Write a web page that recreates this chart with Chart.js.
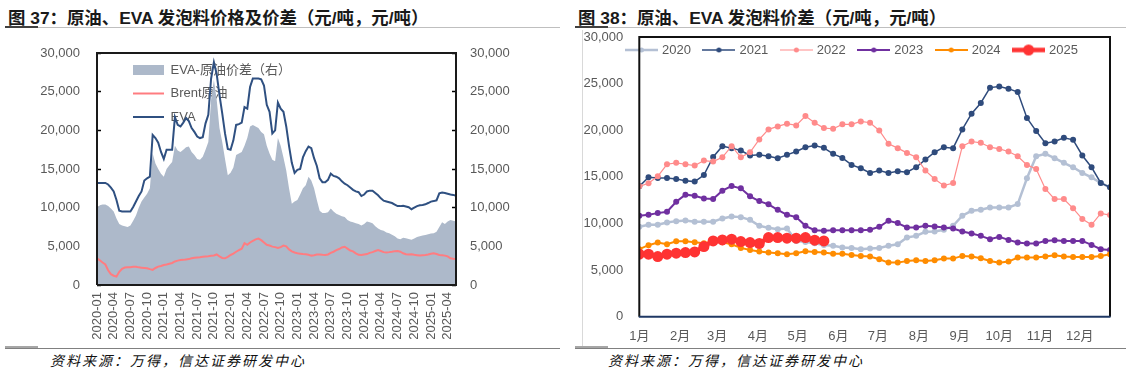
<!DOCTYPE html>
<html><head><meta charset="utf-8">
<script src="https://cdn.jsdelivr.net/npm/chart.js@4.4.1/dist/chart.umd.min.js"></script>
<style>
html,body{margin:0;padding:0;background:#fff;}
body{width:1131px;height:373px;position:relative;overflow:hidden;font-family:"Liberation Sans","Noto Sans CJK SC",sans-serif;}
.title{position:absolute;top:4px;font-size:17.4px;font-weight:bold;color:#1a1a1a;white-space:nowrap;}
.ln{position:absolute;}
.foot{position:absolute;top:350px;font-size:14px;font-style:italic;color:#111;letter-spacing:2px;white-space:nowrap;font-family:"Noto Sans CJK SC",sans-serif;}
canvas{position:absolute;}
</style></head>
<body>
<div class="title" style="left:8px;">图 37：原油、EVA 发泡料价格及价差（元/吨，元/吨）</div>
<div class="title" style="left:578px;">图 38：原油、EVA 发泡料价差（元/吨，元/吨）</div>
<div class="ln" style="left:5px;top:27px;width:555px;height:1px;background:#BFBFBF;"></div>
<div class="ln" style="left:5px;top:26px;width:33px;height:2px;background:#404040;"></div>
<div class="ln" style="left:575px;top:27px;width:551px;height:1px;background:#BFBFBF;"></div>
<div class="ln" style="left:575px;top:26px;width:33px;height:2px;background:#404040;"></div>
<div class="ln" style="left:582px;top:30px;width:1px;height:318px;background:#D9D9D9;"></div>
<div class="ln" style="left:5px;top:348px;width:555px;height:1px;background:#808080;"></div>
<div class="ln" style="left:5px;top:346px;width:33px;height:2px;background:#A6A6A6;"></div>
<div class="ln" style="left:575px;top:348px;width:551px;height:1px;background:#808080;"></div>
<div class="ln" style="left:575px;top:346px;width:33px;height:2px;background:#A6A6A6;"></div>
<div class="foot" style="left:50px;">资料来源：万得，信达证券研发中心</div>
<div class="foot" style="left:608px;">资料来源：万得，信达证券研发中心</div>
<canvas id="c1" width="565" height="318" style="left:0;top:30px;"></canvas>
<canvas id="c2" width="556" height="318" style="left:575px;top:30px;"></canvas>
<script>
// ---------- Chart 37 data (half-monthly, 2020-01 .. 2025-05) ----------
const halfMonthDates = [];
for (let y = 2020; y <= 2025; y++) {
  for (let m = 1; m <= 12; m++) {
    if (y === 2025 && m > 5) break;
    const mm = String(m).padStart(2, '0');
    halfMonthDates.push(y + '-' + mm + '-01', y + '-' + mm + '-16');
  }
}
const evaPrice = [
13200,13200,13200,13200,13000,12600,12100,11000,9600,9500,
9500,9500,9500,10100,10800,11500,12100,13500,13800,14000,
19400,19000,18400,17200,16300,17500,17500,17500,21700,20700,
20500,21000,21600,21200,20300,19800,19200,19000,19100,20900,
22000,26700,28800,27300,24600,22200,19600,17600,17500,18700,
20700,20800,21000,23000,22800,25600,26700,26700,26700,26600,
25800,23300,22400,19600,20000,23600,22800,22400,20500,18000,
15800,14500,14900,15000,16500,17300,17900,17700,16400,15400,
13800,13300,13300,13600,14400,14100,14000,13800,13400,13100,
12900,12600,12300,12100,12000,11500,11700,12100,12200,12200,
11900,11600,11200,10900,10800,10700,10600,10400,10200,10200,
10250,10150,10050,9800,10000,10200,10300,10350,10430,10600,
10780,10850,10950,11850,11950,11900,11800,11700,11650,11550];
const brentPrice = [
3450,3200,2900,2650,1900,1400,1200,1100,1700,2100,
2250,2280,2300,2350,2350,2280,2240,2200,2160,2050,
1950,2200,2380,2450,2580,2650,2750,2850,3050,3150,
3220,3250,3300,3350,3450,3530,3560,3580,3650,3700,
3720,3780,3820,3950,3700,3500,3450,3650,3880,4050,
4300,4500,4700,5400,5200,5500,5700,5900,6000,5800,
5500,5200,5100,4960,4900,4800,4900,5100,5000,4600,
4350,4200,4100,4050,4000,3970,3900,3800,3850,3950,
3950,3900,3880,3950,4150,4300,4500,4650,4850,4950,
4700,4450,4350,4100,3900,3880,3950,4000,4150,4250,
4400,4530,4400,4250,4200,4250,4310,4380,4400,4300,
4100,3970,3950,3980,3900,3850,3800,3850,3880,3950,
4050,4100,4000,3880,3850,3800,3700,3450,3400,3360];
const evaCrudeSpread = [
9900,10300,10400,10400,10200,9900,9500,8600,7900,7700,
7600,7500,7700,8300,9000,10000,10800,11300,11800,12500,
17000,15700,15000,14400,14000,15000,15500,15900,18000,17400,
17200,17500,17800,17900,17200,16800,16300,16200,16600,17500,
18500,24000,26500,24000,20300,18500,16300,14200,14500,15200,
16800,17000,17200,18000,19000,20500,20700,20500,20300,19800,
19500,18000,17000,16200,16000,19000,18000,16500,14800,12500,
10500,10800,11000,11700,12500,12900,14000,13500,12500,11000,
9600,9300,9300,9400,9900,9500,9200,9050,8900,8800,
8400,8200,8100,8000,7900,7700,7900,8200,8100,8000,
7600,7300,7100,7000,6800,6700,6500,6300,6000,5900,
6100,6050,5950,5850,6000,6200,6300,6400,6450,6550,
6650,6700,6900,7500,8100,7900,8200,8400,8300,8200];

// ---------- Chart 38 data (weekly, 52 weeks) ----------
const monthLabels = ['1月','2月','3月','4月','5月','6月','7月','8月','9月','10月','11月','12月'];
const monthStartDays = [0,31,59,90,120,151,181,212,243,273,304,334];
const yearNames = ['2020','2021','2022','2023','2024','2025'];
const s2020 = [9640,9860,9860,10110,10250,10320,10180,10180,10180,10540,10750,10680,10390,9750,9530,9390,9460,8130,8020,7880,7700,7600,7420,7380,7240,7310,7380,7600,7770,8490,8670,9100,9140,9320,9750,10830,11360,11470,11720,11720,11720,12080,14850,17210,17470,17000,16500,16030,15420,14950,14340,13880];
const s2021 = [13980,14950,14880,14880,14770,14590,14490,15200,17140,18290,18080,17820,17290,17360,17210,17000,17360,17720,18180,18360,18110,17470,17030,16280,15920,15420,15670,15420,15600,15490,16030,16850,17640,18180,18080,20090,21770,22920,24570,24680,24460,24100,21310,19910,18610,18790,19190,18970,17290,16030,14340,13880];
const s2022 = [13980,14310,15060,16350,16500,16350,16210,16750,16640,17100,18290,17100,17640,19010,20090,20410,20700,20520,21520,20800,20230,20160,20630,20630,20950,20800,19980,18540,18080,17570,17100,15670,14770,14060,14340,18290,18790,18650,18180,18000,17720,17210,16280,15850,13700,12620,12620,11620,10470,9860,11080,10900];
const s2023 = [10830,10930,11110,11260,12330,13090,12980,12690,12620,13520,14020,13770,12910,12400,12050,11470,10930,10680,9750,9280,9210,9280,9280,9280,9280,9320,9640,10290,10040,9570,9570,9750,9680,9570,9460,9140,8920,8670,8310,8560,8240,7950,7850,7850,8130,8210,8130,8130,8130,7700,7240,7160];
const s2024 = [7240,7670,7950,7770,8100,8100,7990,7880,8060,7990,7770,7380,7160,6990,6880,6810,6700,6810,7020,6950,6880,6740,6740,6630,6520,6450,6160,5800,5800,5980,6050,5980,6050,6230,6230,6520,6450,6270,5980,5800,5910,6340,6340,6340,6450,6590,6450,6410,6410,6410,6520,6700];
const s2025 = [6700,6700,6450,6700,6810,6880,6950,7520,8130,8240,8310,8060,7950,7850,8490,8490,8420,8420,8490,8210,8130];

// ---------- helpers ----------
Chart.defaults.font.family = '"Liberation Sans","Noto Sans CJK SC",sans-serif';
Chart.defaults.color = '#595959';
const fmt = v => Number(v).toLocaleString('en-US');

function iconCanvas(w, h, draw) {
  const c = document.createElement('canvas');
  c.width = w; c.height = h;
  draw(c.getContext('2d'), w, h);
  return c;
}
function lineIcon(color, w, lw, r) {
  const h = Math.max(12, Math.ceil(2 * r + 4));
  return iconCanvas(w, h, (g) => {
    g.strokeStyle = color; g.lineWidth = lw;
    g.beginPath(); g.moveTo(0, h / 2); g.lineTo(w, h / 2); g.stroke();
    if (r) { g.fillStyle = color; g.beginPath(); g.arc(w / 2, h / 2, r, 0, Math.PI * 2); g.fill(); }
  });
}
const noPadY = (w) => (s) => { s.width = w; s.paddingTop = 0; s.paddingBottom = 0; };
const noPadX = (h) => (s) => { s.height = h; s.paddingLeft = 0; s.paddingRight = 0; };

const framePlugin = {
  id: 'frame',
  afterDatasetsDraw(chart, args, o) {
    const {ctx, chartArea: a} = chart;
    ctx.save();
    ctx.lineWidth = o.width; ctx.strokeStyle = o.color;
    ctx.beginPath();
    ctx.moveTo(a.left, a.bottom); ctx.lineTo(a.left, a.top); ctx.lineTo(a.right, a.top); ctx.lineTo(a.right, a.bottom);
    if (!o.bottomColor) ctx.lineTo(a.left, a.bottom);
    ctx.stroke();
    if (o.bottomColor) {
      ctx.strokeStyle = o.bottomColor; ctx.lineWidth = o.bottomWidth;
      ctx.beginPath(); ctx.moveTo(a.left - 0.5, a.bottom); ctx.lineTo(a.right + 0.5, a.bottom); ctx.stroke();
    }
    ctx.restore();
  }
};
const legendPos = {
  id: 'legendPos',
  afterLayout(chart, args, o) {
    const lg = chart.legend; if (!lg) return;
    const pad = lg.options.labels.padding;
    const dx = (o.x - pad) - lg.left;
    lg.left += dx; lg.right += dx;
    lg.top = o.y - pad; lg.bottom = lg.top + o.h;
  }
};

// ---------- Chart 37 ----------
const icons1 = [
  iconCanvas(31, 10, (g) => { g.fillStyle = '#ADB9CA'; g.fillRect(0, 0, 31, 10); }),
  lineIcon('#FF7C80', 31, 2, 0),
  lineIcon('#2F5081', 31, 2, 0)
];
const isQuarter = i => i % 6 === 0;
new Chart(document.getElementById('c1'), {
  type: 'line',
  data: {
    labels: halfMonthDates,
    datasets: [
      {label: 'EVA-原油价差（右）', data: evaCrudeSpread, yAxisID: 'yR', fill: 'origin', backgroundColor: '#ADB9CA', borderColor: '#ADB9CA', borderWidth: 0, pointRadius: 0, order: 3},
      {label: 'Brent原油', data: brentPrice, yAxisID: 'yL', borderColor: '#FF7C80', borderWidth: 2, pointRadius: 0, fill: false, order: 2},
      {label: 'EVA', data: evaPrice, yAxisID: 'yL', borderColor: '#2F5081', borderWidth: 2, pointRadius: 0, fill: false, order: 1}
    ]
  },
  options: {
    responsive: false, animation: false, devicePixelRatio: 1,
    layout: {padding: {top: 23, left: 0, right: 0, bottom: 0}},
    scales: {
      x: {
        type: 'category', offset: false, z: 1,
        border: {display: false},
        grid: {display: true, drawOnChartArea: false, drawTicks: true, tickLength: -4, tickWidth: 1.5,
               tickColor: (c) => isQuarter(c.index) ? '#000' : 'rgba(0,0,0,0)'},
        ticks: {autoSkip: false, minRotation: 90, maxRotation: 90, padding: 11, color: '#595959', font: {size: 13},
                callback: (v, i) => isQuarter(i) ? halfMonthDates[i].slice(0, 7) : ''},
        afterFit: noPadX(63)
      },
      yL: {
        position: 'left', min: 0, max: 30000, z: 1,
        border: {display: false},
        grid: {drawOnChartArea: false, drawTicks: true, tickLength: -4, tickColor: '#000', tickWidth: 1.5},
        ticks: {stepSize: 5000, padding: 21, color: '#595959', font: {size: 13}, callback: fmt},
        afterFit: noPadY(97)
      },
      yR: {
        position: 'right', min: 0, max: 30000, z: 1,
        border: {display: false},
        grid: {drawOnChartArea: false, drawTicks: true, tickLength: -4, tickColor: '#000', tickWidth: 1.5},
        ticks: {stepSize: 5000, padding: 18, color: '#595959', font: {size: 13}, callback: fmt},
        afterFit: noPadY(109)
      }
    },
    plugins: {
      tooltip: {enabled: false},
      legend: {
        position: 'chartArea', align: 'start',
        labels: {
          usePointStyle: true, pointStyleWidth: 31, boxHeight: 10, padding: 10.5,
          color: '#595959', font: {size: 13},
          generateLabels: (chart) => chart.data.datasets.map((ds, i) => ({
            text: ds.label, pointStyle: icons1[i], datasetIndex: i, hidden: false,
            fontColor: '#595959', fillStyle: 'rgba(0,0,0,0)', strokeStyle: 'rgba(0,0,0,0)', lineWidth: 0
          }))
        }
      },
      frame: {width: 2, color: '#1a1a1a'},
      legendPos: {x: 133, y: 33.5, h: 200}
    }
  },
  plugins: [framePlugin, legendPos]
});

// ---------- Chart 38 ----------
const series2 = [s2020, s2021, s2022, s2023, s2024, s2025];
const colors2 = ['#B4C0D4', '#2F4B7C', '#FF8B8B', '#7030A0', '#FF8C00', '#FF3333'];
const lineW2 = [2.5, 1.5, 1.2, 2, 2, 4.5];
const pointR2 = [3, 3, 3, 3, 3, 5.5];
const icons2 = colors2.map((c, i) => lineIcon(c, 33, lineW2[i], i === 5 ? 5.5 : 2.5));
new Chart(document.getElementById('c2'), {
  type: 'line',
  data: {
    datasets: series2.map((arr, i) => ({
      label: yearNames[i],
      data: arr.map((v, k) => ({x: k, y: v})),
      borderColor: colors2[i], backgroundColor: colors2[i],
      borderWidth: lineW2[i], pointRadius: pointR2[i], pointBorderWidth: 0,
      pointBackgroundColor: colors2[i], fill: false, order: 5 - i
    }))
  },
  options: {
    responsive: false, animation: false, devicePixelRatio: 1,
    layout: {padding: {top: 6, left: 0, right: 21, bottom: 0}},
    scales: {
      x: {
        type: 'linear', min: 0, max: 51,
        border: {display: false}, grid: {display: false, drawTicks: false},
        afterBuildTicks: (s) => { s.ticks = monthStartDays.map(d => ({value: d / 7})); },
        ticks: {autoSkip: false, maxRotation: 0, padding: 12, color: '#595959', font: {size: 13},
                callback: (v, i) => monthLabels[i]},
        afterFit: noPadX(31.3)
      },
      y: {
        min: 0, max: 30000,
        border: {display: false}, grid: {display: false, drawTicks: false},
        ticks: {stepSize: 5000, padding: 16, color: '#595959', font: {size: 13}, callback: fmt},
        afterFit: noPadY(64.3)
      }
    },
    plugins: {
      tooltip: {enabled: false},
      legend: {
        position: 'top', align: 'start', maxHeight: 1,
        labels: {
          usePointStyle: true, pointStyleWidth: 28, boxHeight: 12, padding: 14,
          color: '#595959', font: {size: 13},
          generateLabels: (chart) => chart.data.datasets.map((ds, i) => ({
            text: ds.label, pointStyle: icons2[i], datasetIndex: i, hidden: false,
            fontColor: '#595959', fillStyle: 'rgba(0,0,0,0)', strokeStyle: 'rgba(0,0,0,0)', lineWidth: 0
          }))
        }
      },
      frame: {width: 2, color: '#111', bottomColor: '#1F3864', bottomWidth: 2},
      legendPos: {x: 52.5, y: 13.5, h: 60}
    }
  },
  plugins: [framePlugin, legendPos]
});
</script>
</body></html>
